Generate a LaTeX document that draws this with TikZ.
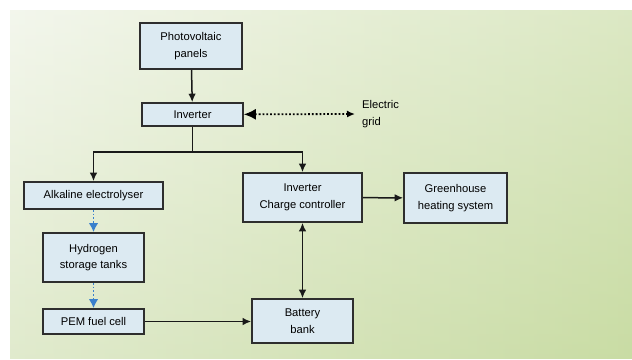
\documentclass[tikz,border=0pt]{standalone}
\usepackage{fontspec}
\setmainfont{Liberation Sans}
\usetikzlibrary{arrows.meta}
\definecolor{boxfill}{HTML}{DCEAF2}
\definecolor{boxline}{HTML}{2E2E2E}
\definecolor{bgA}{HTML}{EDF2E3}
\definecolor{bgB}{HTML}{C9DCA4}
\definecolor{bluearr}{HTML}{3A80CC}
\begin{document}
\begin{tikzpicture}[x=1pt,y=-1pt,
  box/.style={draw=boxline,fill=boxfill,line width=1.6pt,align=center,inner sep=0pt,
    font=\fontsize{11.2}{16.5}\selectfont},
  conn/.style={line width=1.5pt,draw=black!90,-{Latex[length=8.5pt,width=7.5pt]}},
  bconn/.style={line width=1.8pt,draw=bluearr,dotted,-{Latex[length=9pt,width=9.5pt,fill=bluearr]}},
]
\useasboundingbox (0,0) rectangle (632,359);
\fill[white] (0,0) rectangle (632,359);
\shade[left color=bgA,right color=bgB] (10,10) rectangle (632,358);
\shade[top color=bgB!0,bottom color=bgB,opacity=0.35] (10,10) rectangle (632,358);

\node[box,minimum width=102pt,minimum height=46pt] (pv) at (191,46) {Photovoltaic\\panels};
\node[box,minimum width=101pt,minimum height=23pt] (inv) at (192.5,114.5) {Inverter};
\node[box,minimum width=139pt,minimum height=27pt] (alk) at (93.5,195.5) {Alkaline electrolyser};
\node[box,minimum width=119pt,minimum height=49pt] (icc) at (302.5,197.5) {Inverter\\Charge controller};
\node[box,minimum width=103pt,minimum height=50pt] (gh) at (455.5,198) {Greenhouse\\heating system};
\node[box,minimum width=101pt,minimum height=49pt] (h2) at (93.5,257.5) {Hydrogen\\storage tanks};
\node[box,minimum width=101pt,minimum height=25pt] (pem) at (93.5,321.5) {PEM fuel cell};
\node[box,minimum width=101pt,minimum height=44pt] (bat) at (302.5,321) {Battery\\bank};
\node[align=left,anchor=west,inner sep=0pt,font=\fontsize{11.2}{16.5}\selectfont] (grid) at (362,114) {Electric\\grid};

\coordinate (j) at (192.5,152);
\coordinate (gend) at (355,114);

\draw[conn] (pv) -- (inv);
\draw[line width=1.5pt,draw=black!90] (inv) -- (j);
\draw[conn] (j) -| (alk);
\draw[conn] (j) -| (icc);
\draw[line width=1.8pt,dotted,{Latex[length=12pt,width=11pt]}-{Latex[length=8pt,width=7pt]}] (inv) -- (gend);
\draw[conn] (icc) -- (gh);
\draw[line width=1.5pt,draw=black!90,{Latex[length=8.5pt,width=7.5pt]}-{Latex[length=8.5pt,width=7.5pt]}] (icc) -- (bat);
\draw[conn] (pem) -- (bat.west |- pem);
\draw[bconn] (alk) -- (h2);
\draw[bconn] (h2) -- (pem);
\end{tikzpicture}
\end{document}
